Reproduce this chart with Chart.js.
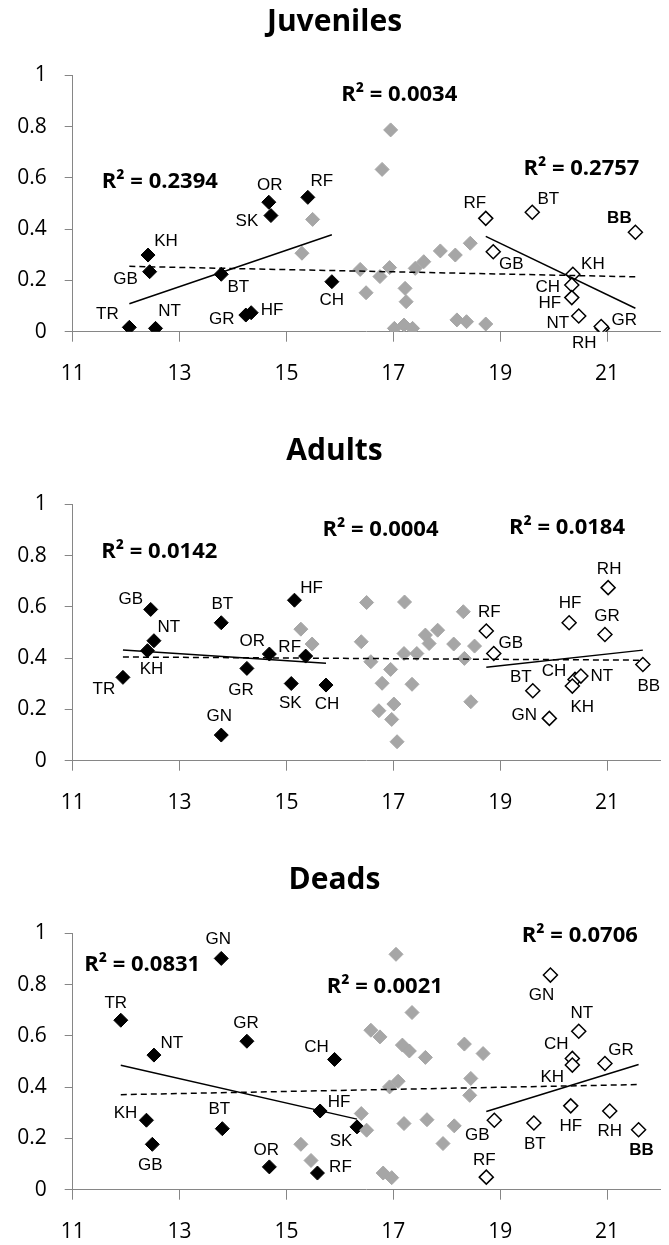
<!DOCTYPE html>
<html>
<head>
<meta charset="utf-8">
<script src="https://cdn.jsdelivr.net/npm/chart.js@4.4.0/dist/chart.umd.min.js"></script>
<style>
  html, body { margin: 0; padding: 0; background: #fff; overflow: hidden; }
  .panel { position: absolute; left: 0; }
</style>
</head>
<body>
<canvas id="juvChart" class="panel" style="top:0px" width="669" height="429"></canvas>
<canvas id="adultChart" class="panel" style="top:429px" width="669" height="429"></canvas>
<canvas id="deadChart" class="panel" style="top:858px" width="669" height="387"></canvas>
<script>
// axis ticks shared by the three panels
const xTicks = [11, 13, 15, 17, 19, 21];
const yTicks = [0, 0.2, 0.4, 0.6, 0.8, 1];

// ---- Juveniles ----
const juvBlackNames = ['TR', 'NT', 'KH', 'GB', 'BT', 'GR', 'HF', 'OR', 'SK', 'RF', 'CH'];
const juvBlackX = [12.06, 12.55, 12.41, 12.44, 13.78, 14.24, 14.34, 14.67, 14.71, 15.40, 15.85];
const juvBlackY = [0.017, 0.013, 0.299, 0.234, 0.224, 0.065, 0.074, 0.505, 0.453, 0.524, 0.195];
const juvGrayX = [15.49, 15.29, 16.79, 16.95, 16.38, 16.49, 16.75, 16.93, 17.22, 17.24, 17.02, 17.20, 17.36, 17.41, 17.57, 17.88, 18.16, 18.44, 18.19, 18.37, 18.73];
const juvGrayY = [0.438, 0.306, 0.633, 0.787, 0.243, 0.152, 0.215, 0.250, 0.169, 0.117, 0.013, 0.026, 0.013, 0.247, 0.273, 0.315, 0.299, 0.345, 0.046, 0.039, 0.030];
const juvWhiteNames = ['RF', 'GB', 'BT', 'BB', 'KH', 'CH', 'HF', 'NT', 'GR', 'RH'];
const juvWhiteX = [18.73, 18.87, 19.60, 21.53, 20.36, 20.34, 20.34, 20.47, 20.91, 20.89];
const juvWhiteY = [0.442, 0.312, 0.466, 0.388, 0.224, 0.182, 0.133, 0.061, 0.013, 0.020];
const juvR2 = ['R² = 0.2394', 'R² = 0.0034', 'R² = 0.2757'];

// ---- Adults ----
const adBlackNames = ['GB', 'NT', 'KH', 'TR', 'BT', 'GR', 'GN', 'OR', 'RF', 'HF', 'SK', 'CH'];
const adBlackX = [12.46, 12.52, 12.40, 11.94, 13.78, 14.26, 13.78, 14.68, 15.36, 15.15, 15.09, 15.74];
const adBlackY = [0.590, 0.468, 0.429, 0.325, 0.538, 0.360, 0.100, 0.416, 0.408, 0.626, 0.301, 0.295];
const adGrayX = [15.27, 15.48, 16.50, 16.40, 16.58, 16.79, 16.95, 16.73, 17.01, 16.97, 17.07, 17.21, 17.20, 17.44, 17.35, 17.60, 17.67, 17.83, 18.13, 18.31, 18.33, 18.52, 18.45];
const adGrayY = [0.513, 0.455, 0.617, 0.464, 0.386, 0.302, 0.356, 0.195, 0.221, 0.161, 0.074, 0.619, 0.418, 0.418, 0.298, 0.490, 0.457, 0.509, 0.455, 0.581, 0.399, 0.447, 0.230];
const adWhiteNames = ['RF', 'GB', 'BT', 'GN', 'HF', 'CH', 'NT', 'KH', 'RH', 'GR', 'BB'];
const adWhiteX = [18.74, 18.88, 19.61, 19.92, 20.29, 20.40, 20.51, 20.35, 21.02, 20.96, 21.67];
const adWhiteY = [0.506, 0.418, 0.273, 0.165, 0.538, 0.317, 0.330, 0.291, 0.675, 0.492, 0.375];
const adR2 = ['R² = 0.0142', 'R² = 0.0004', 'R² = 0.0184'];

// ---- Deads ----
const deBlackNames = ['GN', 'TR', 'NT', 'GR', 'CH', 'KH', 'GB', 'BT', 'OR', 'RF', 'HF', 'SK'];
const deBlackX = [13.78, 11.90, 12.52, 14.26, 15.90, 12.38, 12.49, 13.80, 14.68, 15.58, 15.63, 16.32];
const deBlackY = [0.902, 0.661, 0.525, 0.579, 0.508, 0.271, 0.177, 0.238, 0.089, 0.065, 0.307, 0.245];
const deGrayX = [17.05, 17.35, 16.58, 16.75, 17.17, 17.30, 17.60, 18.33, 18.68, 18.45, 18.43, 16.93, 17.09, 16.40, 16.50, 17.20, 17.63, 18.14, 17.93, 15.27, 15.46, 16.81, 16.97];
const deGrayY = [0.918, 0.691, 0.622, 0.596, 0.564, 0.541, 0.516, 0.568, 0.531, 0.434, 0.368, 0.401, 0.423, 0.297, 0.232, 0.258, 0.273, 0.249, 0.180, 0.177, 0.114, 0.065, 0.047];
const deWhiteNames = ['GN', 'NT', 'CH', 'KH', 'GR', 'HF', 'RH', 'BB', 'BT', 'GB', 'RF'];
const deWhiteX = [19.94, 20.47, 20.35, 20.35, 20.96, 20.32, 21.05, 21.59, 19.63, 18.89, 18.74];
const deWhiteY = [0.837, 0.618, 0.512, 0.486, 0.492, 0.327, 0.307, 0.234, 0.260, 0.271, 0.049];
const deR2 = ['R² = 0.0831', 'R² = 0.0021', 'R² = 0.0706'];

// where each site name sits relative to its diamond (px)
const juvBlackNameAt = [[-22,-13],[14,-17],[18,-14],[-24,8],[17,13],[-24,4],[21,-2],[1,-17],[-24,6],[14,-16],[0,19]];
const juvWhiteNameAt = [[-11,-15],[18,13],[16,-13],[-16,-14],[20,-10],[-24,2],[-22,6],[-21,7],[22,-8],[-17,17]];
const adBlackNameAt = [[-20,-10],[15,-13],[4,19],[-19,12],[1,-18],[-6,22],[-2,-19],[-17,-13],[-16,-9],[17,-12],[-1,20],[1,19]];
const adWhiteNameAt = [[3,-19],[17,-10],[-12,-13],[-25,-3],[1,-19],[-21,-8],[21,0],[10,21],[1,-18],[2,-18],[6,22]];
const deBlackNameAt = [[-3,-19],[-5,-17],[18,-12],[-1,-18],[-18,-12],[-21,-7],[-2,21],[-3,-19],[-3,-17],[23,-6],[19,-9],[-16,14]];
const deWhiteNameAt = [[-9,20],[3,-18],[-16,-14],[-20,12],[16,-13],[0,20],[0,20],[3,21],[1,21],[-17,15],[-2,-17]];

// where the R² captions sit, in axis units
const juvR2At = [[12.63, 0.585], [17.11, 0.923], [20.52, 0.637]];
const adR2At = [[12.62, 0.814], [16.76, 0.899], [20.25, 0.908]];
const deR2At = [[12.30, 0.879], [16.84, 0.792], [20.49, 0.990]];

const GRAY = '#a6a6a6';
const AXIS = '#868686';

function toPoints(xs, ys) {
	return xs.map((x, i) => ({ x: x, y: ys[i] }));
}

// least squares line over the x range of the group
function fitLine(xs, ys) {
	const n = xs.length;
	const mx = xs.reduce((a, b) => a + b, 0) / n;
	const my = ys.reduce((a, b) => a + b, 0) / n;
	let sxy = 0, sxx = 0;
	for (let i = 0; i < n; i++) {
		sxy += (xs[i] - mx) * (ys[i] - my);
		sxx += (xs[i] - mx) * (xs[i] - mx);
	}
	const b = sxy / sxx;
	const a = my - b * mx;
	const x0 = Math.min(...xs), x1 = Math.max(...xs);
	return [{ x: x0, y: a + b * x0 }, { x: x1, y: a + b * x1 }];
}

// site names next to the diamonds
const siteNames = {
	id: 'siteNames',
	afterDatasetsDraw(chart) {
		const ctx = chart.ctx;
		ctx.save();
		ctx.fillStyle = '#000';
		ctx.textAlign = 'center';
		ctx.textBaseline = 'middle';
		chart.data.datasets.forEach((ds, i) => {
			if (!ds.names) return;
			chart.getDatasetMeta(i).data.forEach((pt, j) => {
				const off = ds.nameAt[j];
				const bold = ds.boldNames && ds.boldNames.includes(ds.names[j]);
				ctx.font = (bold ? 'bold ' : '') + '17px "Liberation Sans", Arial, sans-serif';
				ctx.fillText(ds.names[j], pt.x + off[0], pt.y + off[1]);
			});
		});
		ctx.restore();
	}
};

// R² captions of the three trend lines
const r2Captions = {
	id: 'r2Captions',
	afterDatasetsDraw(chart, args, opts) {
		const ctx = chart.ctx;
		const xs = chart.scales.x, ys = chart.scales.y;
		ctx.save();
		ctx.fillStyle = '#000';
		ctx.textAlign = 'center';
		ctx.textBaseline = 'middle';
		ctx.font = 'bold 22px "Open Sans", sans-serif';
		opts.texts.forEach((t, k) => {
			const at = opts.at[k];
			ctx.fillText(t, xs.getPixelForValue(at[0]), ys.getPixelForValue(at[1]));
		});
		ctx.restore();
	}
};

function makePanel(id, title, p) {
	const canvas = document.getElementById(id);
	const allX = p.blackX.concat(p.grayX, p.whiteX);
	const allY = p.blackY.concat(p.grayY, p.whiteY);
	const diamond = { pointStyle: 'rectRot', pointRadius: 7, pointHoverRadius: 7, showLine: false };
	const trend = { type: 'line', pointRadius: 0, pointHoverRadius: 0, fill: false, tension: 0, borderColor: '#000', borderWidth: 1.5 };

	return new Chart(canvas, {
		type: 'scatter',
		data: {
			datasets: [
				Object.assign({ data: fitLine(allX, allY), borderDash: [6, 4] }, trend),
				Object.assign({ data: fitLine(p.blackX, p.blackY) }, trend),
				Object.assign({ data: fitLine(p.whiteX, p.whiteY) }, trend),
				Object.assign({
					data: toPoints(p.whiteX, p.whiteY),
					backgroundColor: '#fff', borderColor: '#000', borderWidth: 1.5,
					names: p.whiteNames, nameAt: p.whiteNameAt, boldNames: p.boldNames
				}, diamond),
				Object.assign({
					data: toPoints(p.grayX, p.grayY),
					backgroundColor: GRAY, borderColor: GRAY, borderWidth: 1
				}, diamond),
				Object.assign({
					data: toPoints(p.blackX, p.blackY),
					backgroundColor: '#000', borderColor: '#000', borderWidth: 1,
					names: p.blackNames, nameAt: p.blackNameAt
				}, diamond)
			]
		},
		options: {
			responsive: false,
			animation: false,
			events: [],
			layout: { padding: { left: 0, right: 0, top: 0, bottom: canvas.height - 331.7 - 55 } },
			plugins: {
				legend: { display: false },
				tooltip: { enabled: false },
				title: {
					display: true,
					text: title,
					color: '#000',
					font: { family: '"Open Sans", sans-serif', size: 30, weight: 'bold', lineHeight: 1.2 },
					padding: { top: 4, bottom: 35.3 }
				},
				r2Captions: { texts: p.r2, at: p.r2At }
			},
			scales: {
				x: {
					type: 'linear',
					min: 11,
					max: 22,
					afterBuildTicks: (scale) => { scale.ticks = xTicks.map((v) => ({ value: v })); },
					afterFit: (scale) => { scale.height = 55; },
					grid: { drawOnChartArea: false, drawTicks: true, tickLength: 10, color: AXIS, lineWidth: 1 },
					border: { color: AXIS, width: 1 },
					ticks: {
						color: '#000',
						padding: 20,
						maxRotation: 0,
						font: { family: '"Open Sans", sans-serif', size: 21 }
					}
				},
				y: {
					type: 'linear',
					min: 0,
					max: 1,
					afterBuildTicks: (scale) => { scale.ticks = yTicks.map((v) => ({ value: v })); },
					afterFit: (scale) => { scale.width = 72.7; },
					grid: { drawOnChartArea: false, drawTicks: true, tickLength: 8, color: AXIS, lineWidth: 1 },
					border: { color: AXIS, width: 1 },
					ticks: {
						color: '#000',
						padding: 18,
						font: { family: '"Open Sans", sans-serif', size: 21 },
						callback: (v) => String(v)
					}
				}
			}
		},
		plugins: [siteNames, r2Captions]
	});
}

makePanel('juvChart', 'Juveniles', {
	blackX: juvBlackX, blackY: juvBlackY, blackNames: juvBlackNames, blackNameAt: juvBlackNameAt,
	grayX: juvGrayX, grayY: juvGrayY,
	whiteX: juvWhiteX, whiteY: juvWhiteY, whiteNames: juvWhiteNames, whiteNameAt: juvWhiteNameAt,
	boldNames: ['BB'], r2: juvR2, r2At: juvR2At
});

makePanel('adultChart', 'Adults', {
	blackX: adBlackX, blackY: adBlackY, blackNames: adBlackNames, blackNameAt: adBlackNameAt,
	grayX: adGrayX, grayY: adGrayY,
	whiteX: adWhiteX, whiteY: adWhiteY, whiteNames: adWhiteNames, whiteNameAt: adWhiteNameAt,
	boldNames: [], r2: adR2, r2At: adR2At
});

makePanel('deadChart', 'Deads', {
	blackX: deBlackX, blackY: deBlackY, blackNames: deBlackNames, blackNameAt: deBlackNameAt,
	grayX: deGrayX, grayY: deGrayY,
	whiteX: deWhiteX, whiteY: deWhiteY, whiteNames: deWhiteNames, whiteNameAt: deWhiteNameAt,
	boldNames: ['BB'], r2: deR2, r2At: deR2At
});
</script>
</body>
</html>
